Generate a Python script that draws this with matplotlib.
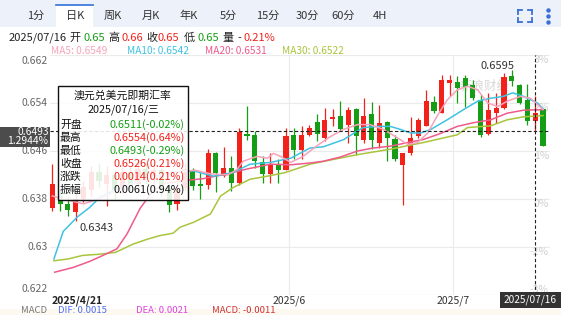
import matplotlib
matplotlib.use('Agg')
import matplotlib.pyplot as plt
from matplotlib.patches import Rectangle
import numpy as np

plt.rcParams['font.family'] = ['Noto Sans CJK SC', 'DejaVu Sans']

# 日K 数据 (开, 高, 低, 收)
opens = [0.6365, 0.6385, 0.6372, 0.6358, 0.6380, 0.6395, 0.6425, 0.6405, 0.6420, 0.6395,
         0.6425, 0.6405, 0.6430, 0.6415, 0.6428, 0.6398, 0.6372, 0.6398,
         0.6427, 0.6405, 0.6403, 0.6456, 0.6419, 0.6432, 0.6407, 0.6489, 0.6486, 0.6441,
         0.6421, 0.6439, 0.6429,
         0.6486, 0.6461, 0.6487, 0.6508, 0.6482, 0.6513, 0.6519, 0.6504, 0.6530, 0.6479,
         0.6522, 0.6474, 0.6508, 0.6480, 0.6436, 0.6457, 0.6485, 0.6502, 0.6542, 0.6524,
         0.6573, 0.6575, 0.6581, 0.6570, 0.6545, 0.6489, 0.6523, 0.6532, 0.6585, 0.6570,
         0.6545, 0.6510, 0.6530]
highs = [0.6438, 0.6395, 0.6385, 0.6395, 0.6410, 0.6435, 0.6440, 0.6435, 0.6428, 0.6445,
         0.6435, 0.6440, 0.6440, 0.6435, 0.6432, 0.6405, 0.6408, 0.6440,
         0.6432, 0.6427, 0.6464, 0.6458, 0.6467, 0.6451, 0.6498, 0.6535, 0.6493, 0.6452,
         0.6457, 0.6447, 0.6498,
         0.6498, 0.6501, 0.6504, 0.6521, 0.6532, 0.6530, 0.6543, 0.6534, 0.6532, 0.6548,
         0.6541, 0.6536, 0.6510, 0.6487, 0.6457, 0.6517, 0.6515, 0.6561, 0.6551, 0.6587,
         0.6587, 0.6585, 0.6587, 0.6579, 0.6554, 0.6556, 0.6556, 0.6590, 0.6595, 0.6572,
         0.6572, 0.6551, 0.6530]
lows = [0.6360, 0.6360, 0.6352, 0.6343, 0.6375, 0.6385, 0.6400, 0.6368, 0.6378, 0.6390,
        0.6395, 0.6400, 0.6405, 0.6400, 0.6385, 0.6358, 0.6362, 0.6395,
        0.6395, 0.6380, 0.6397, 0.6391, 0.6417, 0.6393, 0.6403, 0.6479, 0.6432, 0.6406,
        0.6406, 0.6406, 0.6428,
        0.6447, 0.6447, 0.6485, 0.6476, 0.6476, 0.6501, 0.6493, 0.6474, 0.6454, 0.6474,
        0.6463, 0.6465, 0.6443, 0.6443, 0.6370, 0.6454, 0.6482, 0.6501, 0.6523, 0.6523,
        0.6551, 0.6540, 0.6534, 0.6545, 0.6484, 0.6487, 0.6507, 0.6530, 0.6568, 0.6538,
        0.6504, 0.6493, 0.6468]
closes = [0.6405, 0.6372, 0.6362, 0.6380, 0.6400, 0.6425, 0.6410, 0.6420, 0.6395, 0.6425,
          0.6405, 0.6430, 0.6415, 0.6428, 0.6398, 0.6370, 0.6398, 0.6430,
          0.6402, 0.6401, 0.6456, 0.6424, 0.6432, 0.6407, 0.6491, 0.6485, 0.6443, 0.6421,
          0.6436, 0.6429, 0.6485,
          0.6461, 0.6486, 0.6498, 0.6489, 0.6512, 0.6517, 0.6496, 0.6529, 0.6485, 0.6519,
          0.6479, 0.6506, 0.6482, 0.6447, 0.6457, 0.6482, 0.6511, 0.6543, 0.6527, 0.6579,
          0.6579, 0.6565, 0.6567, 0.6548, 0.6486, 0.6528, 0.6532, 0.6584, 0.6576, 0.6540,
          0.6510, 0.6524, 0.6469]

# 均线
ma5_x = [0, 2, 4, 6, 8.6, 11.3, 13.8, 16.4, 18.3, 20.3, 22.5, 23.7, 24.5, 26.3, 27.6, 28.4,
         29.3, 30.6, 32.2, 34, 35.7, 37.4, 39.2, 40.8, 42.5, 44.3, 45.6, 46.9, 48.2, 49.4,
         50.7, 52, 53.3, 54.6, 55.9, 57.2, 58.4, 60.1, 61.4, 63]
ma5_y = [0.6385, 0.6378, 0.6372, 0.6380, 0.6395, 0.6410, 0.6418, 0.6425, 0.6428, 0.6422,
         0.6420, 0.6429, 0.6443, 0.6451, 0.6448, 0.6456, 0.6451, 0.6441, 0.6451, 0.6469,
         0.6484, 0.6496, 0.6504, 0.6504, 0.6496, 0.6482, 0.6471, 0.6474, 0.6490, 0.6518,
         0.6545, 0.6562, 0.6568, 0.6562, 0.6540, 0.6534, 0.6543, 0.6551, 0.6548, 0.6529]
ma10_x = [0.2, 1.4, 3.2, 4.8, 6.1, 8.1, 10, 12.6, 15.1, 17.3, 18.1, 20.7, 23.2, 24.1, 25.4,
          28, 30.6, 33.1, 34.8, 37.4, 39.9, 41.7, 43.4, 44.7, 46, 47.3, 48.6, 50.7, 52.8,
          54.6, 56.3, 57.9, 59.1, 60.5, 62.3, 63]
ma10_y = [0.6280, 0.6326, 0.6350, 0.6366, 0.6383, 0.6395, 0.6405, 0.6416, 0.6424, 0.6427,
          0.6427, 0.6418, 0.6424, 0.6430, 0.6438, 0.6441, 0.6448, 0.6465, 0.6467, 0.6479,
          0.6499, 0.6501, 0.6501, 0.6496, 0.6490, 0.6490, 0.6496, 0.6512, 0.6529, 0.6543,
          0.6548, 0.6551, 0.6557, 0.6551, 0.6540, 0.6530]
ma20_x = [0.3, 2.7, 4.8, 6.5, 8.3, 9.6, 11.3, 12.9, 14.5, 17.3, 19.4, 22.5, 25, 28, 30.6,
          33.1, 34.8, 37, 39.2, 41.2, 43.4, 45.6, 47.6, 49.8, 52, 54, 56.3, 58.4, 60.5, 63]
ma20_y = [0.6258, 0.6266, 0.6276, 0.6286, 0.6297, 0.6322, 0.6365, 0.6393, 0.6406, 0.6411,
          0.6414, 0.6422, 0.6430, 0.6438, 0.6437, 0.6440, 0.6443, 0.6450, 0.6460, 0.6465,
          0.6468, 0.6474, 0.6479, 0.6489, 0.6501, 0.6507, 0.6512, 0.6523, 0.6528, 0.6529]
ma30_x = [0.2, 2, 3.9, 6.1, 8.1, 10.4, 12.2, 13.8, 15.5, 16.4, 18.1, 20.3, 21.6, 23.2, 25.4,
          27.6, 29.9, 33.1, 36.1, 39.2, 43.4, 47.6, 52, 53.3, 56.3, 58.4, 60.5, 63]
ma30_y = [0.6277, 0.6280, 0.6286, 0.6288, 0.6291, 0.6305, 0.6313, 0.6319, 0.6323, 0.6333,
          0.6341, 0.6355, 0.6385, 0.6399, 0.6413, 0.6418, 0.6424, 0.6438, 0.6446, 0.6454,
          0.6463, 0.6474, 0.6487, 0.6499, 0.6502, 0.6512, 0.6517, 0.6519]

yticks = [0.622, 0.63, 0.638, 0.646, 0.654, 0.662]
ytick_labels = ['0.622', '0.63', '0.638', '0.646', '0.654', '0.662']
pct_labels = ['-3%', '-2%', '0%', '1%', '2%', '3%']
date_ticks = [30.4, 51.4]
date_labels = ['2025/6', '2025/7']
tabs = ['1分', '日K', '周K', '月K', '年K', '5分', '15分', '30分', '60分', '4H']
tab_x = [36, 75, 113, 151, 189, 228, 268, 307, 343, 380]

RED = '#f2221b'
GREEN = '#159e15'
W, H = 561, 315


def F(x, y):
    return x / W, 1 - y / H


fig = plt.figure(figsize=(5.61, 3.15), dpi=100)
fig.patch.set_facecolor('white')

# 顶部标签栏
fig.add_artist(Rectangle(F(0, 27), 1, 27 / H, transform=fig.transFigure,
                         facecolor='#edf1f9', edgecolor='none', zorder=0))
fig.add_artist(Rectangle(F(56, 27), 37 / W, 23 / H, transform=fig.transFigure,
                         facecolor='white', edgecolor='none', zorder=1))
fig.add_artist(plt.Line2D([56 / W, 93 / W], [1 - 4.5 / H] * 2, color='#2f6fd6', lw=1.2))
for t, x in zip(tabs, tab_x):
    fig.text(*F(x, 16), t, fontsize=8, color='#333333', ha='center', va='center')
# 全屏 / 更多 图标
for (x0, y0, dx, dy) in [(518, 10, 1, 1), (532, 10, -1, 1), (518, 22, 1, -1), (532, 22, -1, -1)]:
    fig.add_artist(plt.Line2D([x0 / W, (x0 + 4 * dx) / W], [1 - y0 / H] * 2, color='#3a6fd8', lw=1.3))
    fig.add_artist(plt.Line2D([x0 / W] * 2, [1 - y0 / H, 1 - (y0 + 4 * dy) / H], color='#3a6fd8', lw=1.3))
for y in [10, 16, 22]:
    fig.add_artist(plt.Line2D([548 / W], [1 - y / H], marker='o', ms=2.2, color='#3a6fd8', lw=0))

# 行情信息
hdr = [('2025/07/16', 9, '#222222'), ('开', 69, '#222222'), ('0.65', 83, GREEN),
       ('高', 108, '#222222'), ('0.66', 121, RED), ('收', 146, '#222222'),
       ('0.65', 158, RED), ('低', 184, '#222222'), ('0.65', 197, GREEN),
       ('量', 222, '#222222'), ('-', 237, '#222222'), ('0.21%', 244, RED)]
for t, x, c in hdr:
    fig.text(*F(x, 38), t, fontsize=8, color=c, ha='left', va='center')
mas = [('MA5: 0.6549', 51, '#f7a3bb'), ('MA10: 0.6542', 127, '#3ec3e3'),
       ('MA20: 0.6531', 205, '#ef5b8a'), ('MA30: 0.6522', 282, '#a9c53c')]
for t, x, c in mas:
    fig.text(*F(x, 50.5), t, fontsize=7.3, color=c, ha='left', va='center')

# 主图
ax = fig.add_axes([50 / W, 1 - 295 / H, 500 / W, 240 / H])
ax.set_xlim(-0.3, 63.9)
ax.set_ylim(0.622, 0.662)
for s in ax.spines.values():
    s.set_visible(False)
ax.set_xticks([])
ax.set_yticks([])
for v in yticks:
    ax.axhline(v, color='#ebebeb', lw=0.8, zorder=0)
for d in date_ticks:
    ax.axvline(d, color='#ebebeb', lw=0.8, zorder=0)
ax.axhline(0.622, color='#dddddd', lw=0.8, zorder=0)

ax.text(55.5, 0.6568, '新浪财经', fontsize=9, color='#d8d8d8', ha='center', va='center', zorder=1)

idx = np.arange(len(opens))
o = np.array(opens)
c = np.array(closes)
up = c >= o
cols = np.where(up, RED, GREEN)
ax.vlines(idx, lows, highs, colors=cols, lw=0.9, zorder=2)
body = np.maximum(np.abs(c - o), 0.00018)
ax.bar(idx, body, bottom=np.minimum(o, c), width=0.66, color=cols, zorder=2.5)

ax.plot(ma30_x, ma30_y, color='#a9c53c', lw=1.1, zorder=3)
ax.plot(ma20_x, ma20_y, color='#ef5b8a', lw=1.1, zorder=3)
ax.plot(ma10_x, ma10_y, color='#3ec3e3', lw=1.1, zorder=3)
ax.plot(ma5_x, ma5_y, color='#f7a3bb', lw=1.1, zorder=3)

# 最高/最低标注
imax = int(np.argmax(highs))
imin = int(np.argmin(lows))
ax.text(imax - 1.8, max(highs) + 0.0007, '%.4f' % max(highs), fontsize=8, color='#333333',
        ha='center', va='center', zorder=4)
ax.text(imin + 2.7, min(lows) - 0.0011, '%.4f' % min(lows), fontsize=8, color='#333333',
        ha='center', va='center', zorder=4)

# 十字线
ax.axhline(0.6493, color='#222222', lw=0.8, ls=(0, (3, 2)), zorder=4)
ax.axvline(62, color='#222222', lw=0.8, ls=(0, (3, 2)), zorder=4)

# 右侧百分比
for v, t in zip(yticks, pct_labels):
    off = 0.0009 if v == 0.622 else -0.0009
    ax.text(63.75, v + off, t, fontsize=7.5, color='#cfcfcf', ha='right', va='center', zorder=1)

# 左侧价格
for v, t in zip(yticks, ytick_labels):
    y = 295 - (v - 0.622) * 6000
    if v == 0.622:
        y -= 6
    elif v == 0.662:
        y += 6
    fig.text(*F(48, y), t, fontsize=7.5, color='#666666', ha='right', va='center')

# x 轴日期
fig.text(*F(52, 301), '2025/4/21', fontsize=7.5, color='#222222', ha='left', va='center',
         fontweight='bold')
for d, t in zip(date_ticks, date_labels):
    x = 50 + (d + 0.3) / 64.2 * 500
    fig.text(*F(x, 301), t, fontsize=7.5, color='#333333', ha='center', va='center')

# 左侧价格标签
fig.add_artist(Rectangle(F(0, 147), 50 / W, 20 / H, transform=fig.transFigure,
                         facecolor='#4c4c4c', edgecolor='none', zorder=5))
fig.text(*F(48.5, 132), '0.6493', fontsize=7.4, color='white', ha='right', va='center', zorder=6)
fig.text(*F(48.5, 141.5), '1.2944%', fontsize=7.4, color='white', ha='right', va='center', zorder=6)

# 底部日期标签
fig.add_artist(Rectangle(F(500, 308), 61 / W, 16 / H, transform=fig.transFigure,
                         facecolor='#333333', edgecolor='none', zorder=5))
fig.text(*F(530, 300), '2025/07/16', fontsize=7.3, color='white', ha='center', va='center', zorder=6)

# MACD 行
fig.add_artist(Rectangle(F(0, 315), 1, 6 / H, transform=fig.transFigure,
                         facecolor='#fdf8f0', edgecolor='none', zorder=0))
macd = [('MACD', 21, '#777777'), ('DIF: 0.0015', 58, '#4d6ef5'),
        ('DEA: 0.0021', 136, '#e040e0'), ('MACD: -0.0011', 212, '#d03030')]
for t, x, col in macd:
    fig.text(*F(x, 310.5), t, fontsize=6.8, color=col, ha='left', va='center')

# 浮层
fig.add_artist(Rectangle(F(58, 200), 130 / W, 114 / H, transform=fig.transFigure,
                         facecolor='white', alpha=0.88, edgecolor='none', zorder=7))
fig.add_artist(Rectangle(F(58, 200), 130 / W, 114 / H, transform=fig.transFigure,
                         facecolor='none', edgecolor='#111111', lw=1, zorder=8))
fig.text(*F(123, 95), '澳元兑美元即期汇率', fontsize=7.8, color='#111111', ha='center',
         va='center', zorder=9)
fig.text(*F(123, 110), '2025/07/16/三', fontsize=7.8, color='#111111', ha='center',
         va='center', zorder=9)
rows = [('开盘', '0.6511(-0.02%)', GREEN), ('最高', '0.6554(0.64%)', RED),
        ('最低', '0.6493(-0.29%)', GREEN), ('收盘', '0.6526(0.21%)', RED),
        ('涨跌', '0.0014(0.21%)', RED), ('振幅', '0.0061(0.94%)', '#111111')]
for i, (k, v, col) in enumerate(rows):
    y = 124.5 + i * 13
    fig.text(*F(60, y), k, fontsize=7.8, color='#111111', ha='left', va='center', zorder=9)
    fig.text(*F(185, y), v, fontsize=7.8, color=col, ha='right', va='center', zorder=9)

fig.savefig('out.png', dpi=100)
